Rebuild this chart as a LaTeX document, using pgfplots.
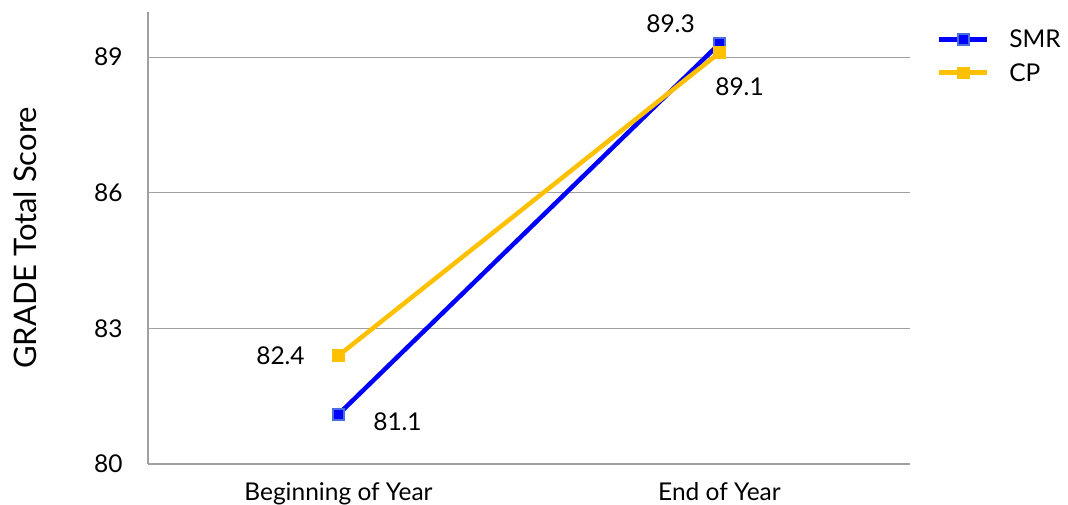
\documentclass[border=0pt]{standalone}
\usepackage{pgfplots}
\pgfplotsset{compat=1.18}
\usepackage{fontspec}
\setmainfont{Lato}
\definecolor{smr}{RGB}{0,0,255}
\definecolor{smredge}{RGB}{70,110,220}
\definecolor{cp}{RGB}{255,192,0}
\definecolor{gridc}{RGB}{160,160,160}
\begin{document}
\begin{tikzpicture}[x=1pt,y=1pt]
\path[use as bounding box] (0,0) rectangle (1068,505);
\begin{axis}[
  at={(148pt,41pt)}, anchor=south west,
  scale only axis, width=762pt, height=452pt,
  xmin=-0.5, xmax=1.5, ymin=80, ymax=90,
  xtick={0,1}, xticklabels={Beginning of Year, End of Year},
  ytick={80,83,86,89},
  axis x line*=bottom, axis y line*=left,
  axis line style={gridc, line width=2pt, -},
  ymajorgrids, grid style={gridc, line width=1.2pt},
  major tick length=0pt,
  tick label style={font=\fontsize{24.5}{28}\selectfont},
  /pgf/number format/assume math mode=true,
  yticklabel style={xshift=-22pt},
  xticklabel style={yshift=-15pt},
  ylabel={GRADE Total Score},
  ylabel style={font=\fontsize{31}{34}\selectfont, at={(axis description cs:-0.161,0.5)}, anchor=center},
  legend style={draw=none, at={(1.035,0.965)}, anchor=north west, font=\fontsize{24.5}{28}\selectfont, row sep=10pt, inner sep=0pt},
  legend cell align=left,
  legend image code/.code={\path[draw=none, fill=none] (0pt,-1pt) rectangle (68pt,1pt); \draw[#1, line width=5pt] (0pt,0pt) -- (48pt,0pt); \draw[#1, mark repeat=1] plot coordinates {(24pt,0pt)};},
  clip=false,
]
\addplot[smr, line width=4.5pt, mark=square*, mark size=5.5pt, mark options={fill=smr, draw=smredge, line width=1.5pt}] coordinates {(0,81.1) (1,89.3)};
\addlegendentry{SMR}
\addplot[cp, line width=4.5pt, mark=square*, mark size=5.5pt, mark options={fill=cp, draw=cp, line width=1.5pt}] coordinates {(0,82.4) (1,89.1)};
\addlegendentry{CP}
\node[font=\fontsize{24.5}{28}\selectfont] at (axis cs:1,89.3) [xshift=-49pt, yshift=20pt] {89.3};
\node[font=\fontsize{24.5}{28}\selectfont] at (axis cs:1,89.1) [xshift=20pt, yshift=-34pt] {89.1};
\node[font=\fontsize{24.5}{28}\selectfont] at (axis cs:0,82.4) [xshift=-58pt, yshift=0pt] {82.4};
\node[font=\fontsize{24.5}{28}\selectfont] at (axis cs:0,81.1) [xshift=59pt, yshift=-7pt] {81.1};
\end{axis}
\end{tikzpicture}
\end{document}
